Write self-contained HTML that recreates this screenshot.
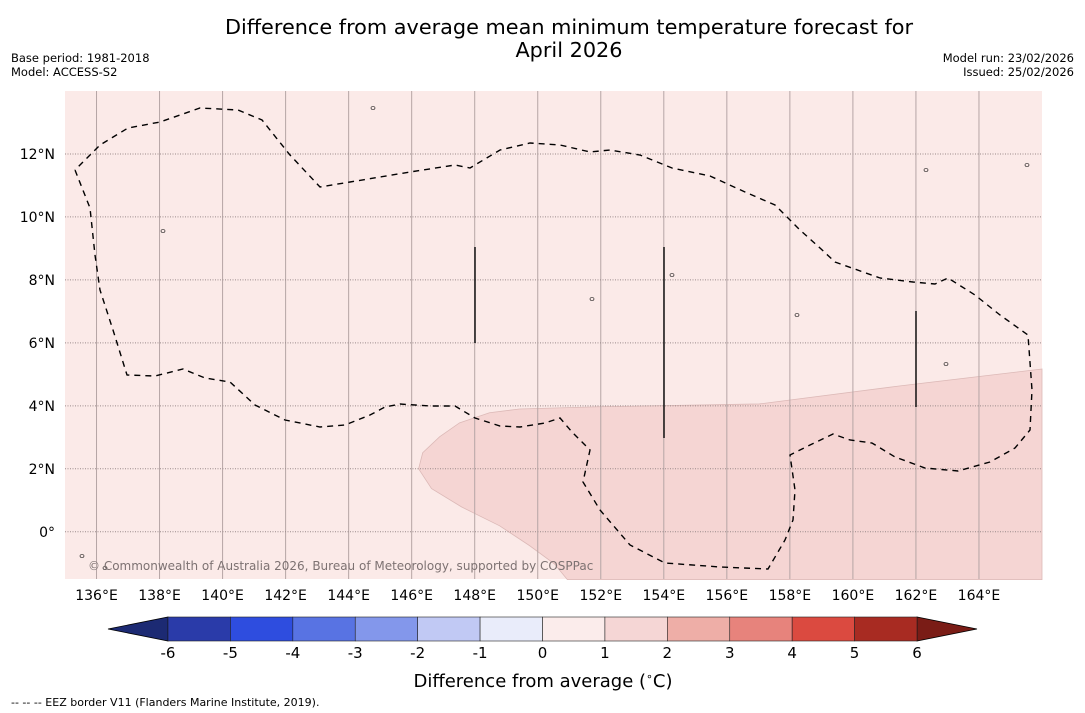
<!DOCTYPE html>
<html><head><meta charset="utf-8">
<style>
body{margin:0;background:#fff;width:1085px;height:713px;overflow:hidden;font-family:"DejaVu Sans","Liberation Sans",sans-serif;}
svg{display:block}
</style></head><body>
<svg id="chart" width="1085" height="713" xmlns="http://www.w3.org/2000/svg" font-family="DejaVu Sans, Liberation Sans, sans-serif">
<text x="569" y="34" font-size="20.8" text-anchor="middle">Difference from average mean minimum temperature forecast for</text>
<text x="569" y="57" font-size="20.8" text-anchor="middle">April 2026</text>
<text x="11" y="62" font-size="11.5">Base period: 1981-2018</text>
<text x="11" y="76" font-size="11.5">Model: ACCESS-S2</text>
<text x="1074" y="62" font-size="11.5" text-anchor="end">Model run: 23/02/2026</text>
<text x="1074" y="76" font-size="11.5" text-anchor="end">Issued: 25/02/2026</text>
<g id="map"></g>
<g id="cbar"></g>
<text x="543" y="687" font-size="18" text-anchor="middle">Difference from average (<tspan font-size="11" dy="-7">∘</tspan><tspan dy="7">C)</tspan></text>
<text x="11" y="706" font-size="11">--  --  -- EEZ border V11 (Flanders Marine Institute, 2019).</text>
</svg>
<script>
const lonTicks=[136,138,140,142,144,146,148,150,152,154,156,158,160,162,164];
const latTicks=[0,2,4,6,8,10,12];
const levels=[-6,-5,-4,-3,-2,-1,0,1,2,3,4,5,6];
const levelColors=["#2a3ba9","#2e4ddf","#5873e3","#8397eb","#c1c9f4","#e9ecfa","#fbeceb","#f5d6d5","#eeaea7","#e7837c","#db4a40","#a82b22"];
const shadeLon=[166,161.47,157.03,151.96,149.42,148.47,147.52,146.89,146.35,146.22,146.63,147.58,148.79,149.74,150.53,150.94,166];
const shadeLat=[5.17,4.63,4.06,3.97,3.9,3.78,3.46,3.02,2.51,2.0,1.37,0.79,0.19,-0.44,-1.02,-1.52,-1.52];
const NS="http://www.w3.org/2000/svg";
const X0=65,X1=1042,Y0=91,Y1=579,LON0=135,LON1=166,LAT0=-1.5,LAT1=14;
const xs=l=>X0+(l-LON0)/(LON1-LON0)*(X1-X0);
const ys=l=>Y1-(l-LAT0)/(LAT1-LAT0)*(Y1-Y0);
function mk(t,a,p){const e=document.createElementNS(NS,t);for(const k in a)e.setAttribute(k,a[k]);p.appendChild(e);return e;}
const map=document.getElementById('map');
const bg=mk('rect',{x:X0,y:Y0,width:X1-X0,height:Y1-Y0,fill:'#fbeae8'},map);


const sh=mk('polygon',{points:shadeLon.map((l,i)=>xs(l)+','+ys(shadeLat[i])).join(' '),fill:'#f5d5d3',stroke:'#dcb9b7','stroke-width':0.8},map);


lonTicks.forEach(l=>{
  const g=mk('line',{x1:xs(l),x2:xs(l),y1:Y0,y2:Y1,stroke:'#b5a5a5','stroke-width':1},map);
  
  
  const t=mk('text',{x:xs(l),y:600,'font-size':14,'text-anchor':'middle'},map);t.textContent=l+'°E';
  
  
});
latTicks.forEach(l=>{
  const g=mk('line',{x1:X0,x2:X1,y1:ys(l),y2:ys(l),stroke:'#9a8a8a','stroke-width':1,'stroke-dasharray':'1,1.5'},map);
  
  
  const t=mk('text',{x:55,y:ys(l)+5,'font-size':14,'text-anchor':'end'},map);t.textContent=l===0?'0°':l+'°N';
  
  
});
const eez="75,170 90,208 95,255 100,290 113,330 127,375 155,376 183,369 205,378 230,382 255,405 285,420 320,427 345,425 370,415 385,407 400,404 430,406 455,406 475,418 500,426 520,427 545,423 560,418 572,432 590,450 583,482 600,510 630,545 665,563 720,567 768,569 785,540 793,520 795,490 790,455 810,445 833,434 850,440 872,443 895,457 925,468 958,471 990,462 1015,448 1030,430 1032,390 1028,335 1000,315 975,295 948,278 935,284 913,282 880,278 835,262 820,248 800,230 775,205 745,192 710,176 672,168 640,155 610,150 590,152 560,145 530,143 500,150 470,168 455,165 410,172 350,182 320,187 290,155 262,120 238,110 200,108 160,122 128,128 100,145 75,170";
const ez=mk('polyline',{points:eez,fill:'none',stroke:'#000','stroke-width':1.4,'stroke-dasharray':'6,5'},map);


[[475,247,343],[664,247,438],[916,311,407]].forEach(v=>{
  const l=mk('line',{x1:v[0],x2:v[0],y1:v[1],y2:v[2],stroke:'#111','stroke-width':1.5},map);
  
  
});
[[373,108],[163,231],[592,299],[797,315],[946,364],[672,275],[82,556],[105,568],[1027,165],[926,170]].forEach(p=>{
  const e=mk('ellipse',{cx:p[0],cy:p[1],rx:2,ry:1.5,fill:'none',stroke:'#000','stroke-width':0.6},map);
  
  
});
const cp=mk('text',{x:88,y:570,'font-size':12,fill:'#7d7272'},map);cp.textContent='© Commonwealth of Australia 2026, Bureau of Meteorology, supported by COSPPac';


const cb=document.getElementById('cbar');
const C0=168,C1=917,CY0=617,CY1=641;
const cx=v=>C0+(v-levels[0])/(levels[levels.length-1]-levels[0])*(C1-C0);
const tl=mk('polygon',{points:`${C0},${CY0} ${C0},${CY1} 108,629`,fill:'#1c2a73',stroke:'#000','stroke-width':0.8},cb);


const tr=mk('polygon',{points:`${C1},${CY0} ${C1},${CY1} 977,629`,fill:'#7a1c16',stroke:'#000','stroke-width':0.8},cb);


levelColors.forEach((c,i)=>{
  const r=mk('rect',{x:cx(levels[i]),y:CY0,width:cx(levels[i+1])-cx(levels[i]),height:CY1-CY0,fill:c,stroke:'#222','stroke-width':0.6},cb);
  
  
});
levels.forEach(v=>{
  const t=mk('text',{x:cx(v),y:658,'font-size':15,'text-anchor':'middle'},cb);t.textContent=v;
  
  
});
</script>
</body></html>
